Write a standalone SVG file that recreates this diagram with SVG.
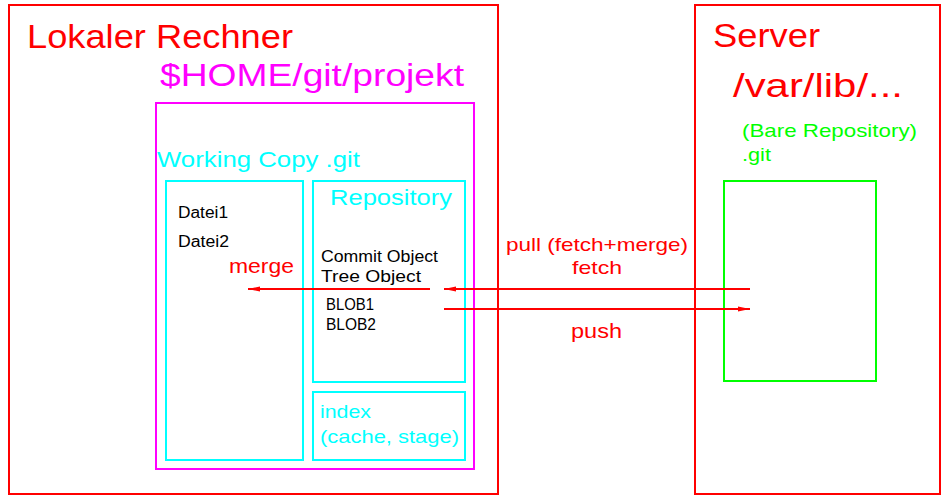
<svg xmlns="http://www.w3.org/2000/svg" width="950" height="500" viewBox="0 0 950 500">
<defs>
<style>
text{font-family:"Liberation Sans","DejaVu Sans",sans-serif}
.box{fill:none;stroke-width:2}
.red{stroke:#ff0000}.mag{stroke:#ff00ff}.cy{stroke:#00ffff}.gr{stroke:#00ff00}
.tr{fill:#ff0000}.tm{fill:#ff00ff}.tc{fill:#00ffff}.tg{fill:#00ff00}.tk{fill:#000000}
.conn{stroke:#ff0000;stroke-width:2;fill:none}
</style>
<marker id="ah" viewBox="0 0 12 6" refX="12" refY="3" markerWidth="12" markerHeight="6" markerUnits="userSpaceOnUse" orient="auto">
<path d="M0,0.5 L12,3 L0,5.5 Z" fill="#ff0000"/>
</marker>
</defs>
<rect width="950" height="500" fill="#ffffff"/>
<g id="lokaler-rechner">
<rect class="box red" x="9" y="5" width="489" height="489"/>
<text class="tr" x="27" y="48" font-size="33" textLength="266" lengthAdjust="spacingAndGlyphs">Lokaler Rechner</text>
</g>
<g id="projekt">
<rect class="box mag" x="156" y="103" width="318" height="366"/>
<text class="tm" x="160" y="86" font-size="31" textLength="304" lengthAdjust="spacingAndGlyphs">$HOME/git/projekt</text>
<text class="tc" x="157" y="167" font-size="22" textLength="203" lengthAdjust="spacingAndGlyphs">Working Copy .git</text>
</g>
<g id="working-copy">
<rect class="box cy" x="166" y="181" width="137" height="279"/>
<text class="tk" x="178" y="218" font-size="16" textLength="50" lengthAdjust="spacingAndGlyphs">Datei1</text>
<text class="tk" x="178" y="247" font-size="16" textLength="51" lengthAdjust="spacingAndGlyphs">Datei2</text>
</g>
<g id="repository">
<rect class="box cy" x="313" y="181" width="152" height="201"/>
<text class="tc" x="330" y="205" font-size="22" textLength="122" lengthAdjust="spacingAndGlyphs">Repository</text>
<text class="tk" x="321" y="262" font-size="16" textLength="117" lengthAdjust="spacingAndGlyphs">Commit Object</text>
<text class="tk" x="321" y="282" font-size="16" textLength="100" lengthAdjust="spacingAndGlyphs">Tree Object</text>
<text class="tk" x="326" y="310" font-size="16" textLength="48" lengthAdjust="spacingAndGlyphs">BLOB1</text>
<text class="tk" x="326" y="330" font-size="16" textLength="50" lengthAdjust="spacingAndGlyphs">BLOB2</text>
</g>
<g id="index">
<rect class="box cy" x="313" y="392" width="152" height="68"/>
<text class="tc" x="320" y="418" font-size="19" textLength="51" lengthAdjust="spacingAndGlyphs">index</text>
<text class="tc" x="320" y="443" font-size="19" textLength="139" lengthAdjust="spacingAndGlyphs">(cache, stage)</text>
</g>
<g id="server">
<rect class="box red" x="695" y="5" width="245" height="489"/>
<text class="tr" x="713" y="47" font-size="33" textLength="107" lengthAdjust="spacingAndGlyphs">Server</text>
<text class="tr" x="733" y="97" font-size="33" textLength="170" lengthAdjust="spacingAndGlyphs">/var/lib/...</text>
<text class="tg" x="742" y="137" font-size="19" textLength="175" lengthAdjust="spacingAndGlyphs">(Bare Repository)</text>
<text class="tg" x="742" y="161" font-size="19" textLength="29" lengthAdjust="spacingAndGlyphs">.git</text>
</g>
<g id="bare-repository">
<rect class="box gr" x="724" y="181" width="152" height="200"/>
</g>
<g id="connectors">
<line class="conn" x1="430" y1="289" x2="248" y2="289" marker-end="url(#ah)"/>
<line class="conn" x1="750" y1="289" x2="444" y2="289" marker-end="url(#ah)"/>
<line class="conn" x1="444" y1="309" x2="750" y2="309" marker-end="url(#ah)"/>
<text class="tr" x="229" y="273" font-size="21" textLength="65" lengthAdjust="spacingAndGlyphs">merge</text>
<text class="tr" x="506" y="251" font-size="19" textLength="182" lengthAdjust="spacingAndGlyphs">pull (fetch+merge)</text>
<text class="tr" x="572" y="274" font-size="19" textLength="50" lengthAdjust="spacingAndGlyphs">fetch</text>
<text class="tr" x="571" y="338" font-size="21" textLength="51" lengthAdjust="spacingAndGlyphs">push</text>
</g>
</svg>
